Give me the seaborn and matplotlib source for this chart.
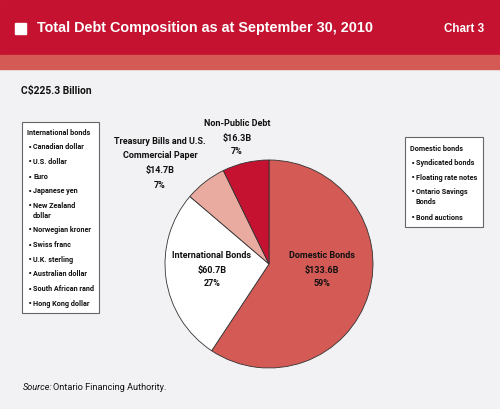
import matplotlib
matplotlib.use("Agg")
import matplotlib.pyplot as plt
import seaborn as sns
from matplotlib.patches import Rectangle

sns.set_theme(style="white")
plt.rcParams['font.family'] = ['Roboto', 'Liberation Sans', 'DejaVu Sans']

# ---- data ----
categories = ["Domestic Bonds", "International Bonds",
              "Treasury Bills and U.S.\nCommercial Paper", "Non-Public Debt"]
values = [133.6, 60.7, 14.7, 16.3]
value_labels = ["$133.6B", "$60.7B", "$14.7B", "$16.3B"]
pct_labels = ["59%", "27%", "7%", "7%"]
colors = ["#d35a55", "#ffffff", "#e9aaa0", "#c41230"]

title = "Total Debt Composition as at September 30, 2010"
chart_no = "Chart 3"
total_label = "C$225.3 Billion"
intl_items = ["Canadian dollar", "U.S. dollar", "Euro", "Japanese yen",
              "New Zealand\ndollar", "Norwegian kroner", "Swiss franc",
              "U.K. sterling", "Australian dollar", "South African rand",
              "Hong Kong dollar"]
dom_items = ["Syndicated bonds", "Floating rate notes",
             "Ontario Savings\nBonds", "Bond auctions"]

W, H = 500, 409
fig = plt.figure(figsize=(W / 100, H / 100), dpi=100)
fig.patch.set_facecolor("#f2f2f4")
ax = fig.add_axes([0, 0, 1, 1])

def Y(py):
    return H - py

head = ["Liberation Sans", "DejaVu Sans"]
# header
ax.add_patch(Rectangle((0, Y(55)), W, 55, color="#c41230", zorder=0))
ax.add_patch(Rectangle((0, Y(69)), W, 14, color="#d35a55", zorder=0))
ax.add_patch(Rectangle((15, Y(34)), 11, 11, color="white", zorder=1))
ax.text(37, Y(28), title, color="white", fontsize=10.4, fontweight="bold",
        family=head, va="center", ha="left")
ax.text(484, Y(29), chart_no, color="white", fontsize=8.4, fontweight="bold",
        family=head, va="center", ha="right")
ax.text(21, Y(91), total_label, color="#111111", fontsize=7.4, fontweight="bold",
        va="center", ha="left")

# pie
cx, cy, r = 269, 264, 104
wedges, _ = ax.pie(values, colors=colors, startangle=90, counterclock=False,
                   radius=r, center=(cx, Y(cy)),
                   wedgeprops=dict(edgecolor="#333333", linewidth=0.6))

tc = "#111111"
fs = 6.5
def label3(x, ys, lines):
    for yy, t in zip(ys, lines):
        ax.text(x, Y(yy), t, ha="center", va="center", fontsize=fs,
                fontweight="bold", color=tc)

label3(322, [255, 270, 284], [categories[0], value_labels[0], pct_labels[0]])
label3(212, [255, 270, 284], [categories[1], value_labels[1], pct_labels[1]])
tb = categories[2].split("\n")
label3(160, [142, 156, 170, 185], tb + [value_labels[2], pct_labels[2]])
label3(237, [123, 138, 152], [categories[3], value_labels[3], pct_labels[3]])

# left box
ax.add_patch(Rectangle((22, Y(313)), 77, 191, facecolor="white",
                       edgecolor="#666666", linewidth=0.8, zorder=2))
bfs = 5.2
ax.text(27, Y(133), "International bonds", fontsize=bfs, fontweight="bold",
        color=tc, va="center", ha="left", zorder=3)
iy = [147, 162, 177, 191, 211, 230, 245, 260, 274, 289, 304]
for yy, t in zip(iy, intl_items):
    lines = t.split("\n")
    y0 = yy - (len(lines) - 1) * 5
    ax.text(27.5, Y(y0), "•", fontsize=bfs, color=tc, va="center_baseline",
            ha="left", zorder=3, family=["DejaVu Sans"])
    for k, ln in enumerate(lines):
        ax.text(33, Y(y0 + k * 10), ln, fontsize=bfs, fontweight="bold",
                color=tc, va="center", ha="left", zorder=3)

# right box
ax.add_patch(Rectangle((405, Y(227)), 78, 90, facecolor="white",
                       edgecolor="#666666", linewidth=0.8, zorder=2))
ax.text(410, Y(149), "Domestic bonds", fontsize=bfs, fontweight="bold",
        color=tc, va="center", ha="left", zorder=3)
dy = [163, 178, 197, 218]
for yy, t in zip(dy, dom_items):
    lines = t.split("\n")
    y0 = yy - (len(lines) - 1) * 5
    ax.text(410.5, Y(y0), "•", fontsize=bfs, color=tc, va="center_baseline",
            ha="left", zorder=3, family=["DejaVu Sans"])
    for k, ln in enumerate(lines):
        ax.text(416, Y(y0 + k * 10), ln, fontsize=bfs, fontweight="bold",
                color=tc, va="center", ha="left", zorder=3)

# source
ax.text(23, Y(388), "Source:", fontsize=6.6, fontstyle="italic", color=tc,
        va="center", ha="left")
ax.text(53, Y(388), "Ontario Financing Authority.", fontsize=6.6, color=tc,
        va="center", ha="left")

ax.set_xlim(0, W)
ax.set_ylim(0, H)
ax.set_aspect("auto")
ax.axis("off")
fig.savefig("out.png", dpi=100, facecolor=fig.get_facecolor())
